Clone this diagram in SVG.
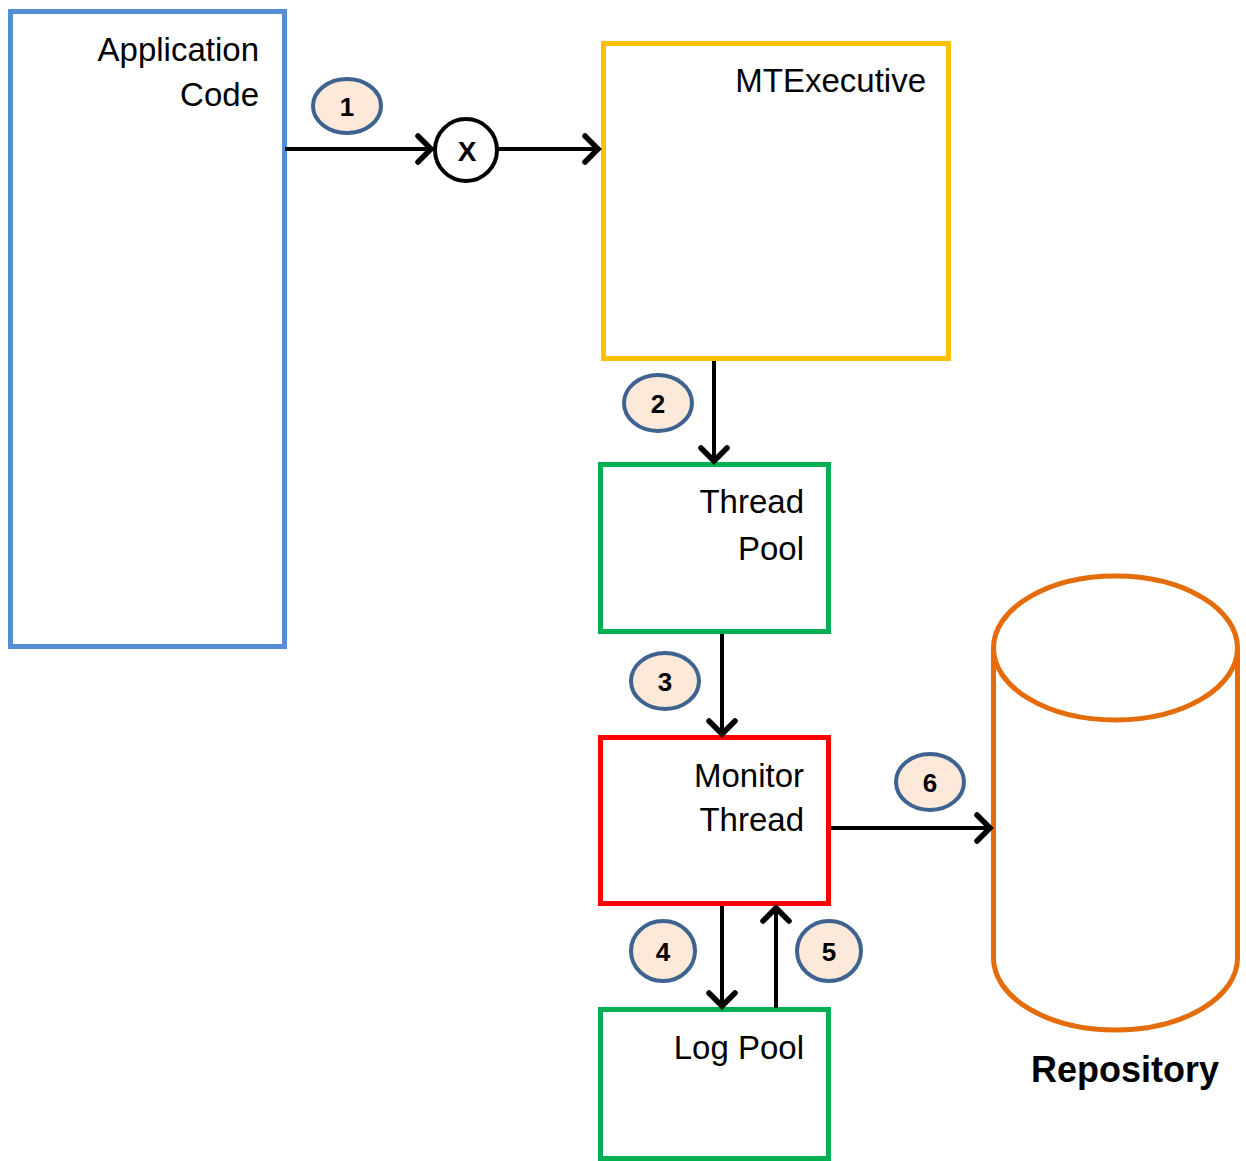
<svg xmlns="http://www.w3.org/2000/svg" width="1246" height="1161" viewBox="0 0 1246 1161">
<defs>
<style>
.box{fill:none;stroke-width:5}
.lbl{font-family:"Liberation Sans",Arial,sans-serif;font-size:33px;fill:#000;text-anchor:end}
.conn{stroke:#000;stroke-width:4;fill:none}
.badge{fill:#FDE9D9;stroke:#3F6390;stroke-width:4}
.num{font-family:"Liberation Sans",Arial,sans-serif;font-size:26px;font-weight:bold;text-anchor:middle;fill:#000}
</style>
<marker id="ah" markerUnits="userSpaceOnUse" viewBox="-16 -16 20 32" refX="0" refY="0" markerWidth="20" markerHeight="32" orient="auto">
<path d="M-13,-13 L0,0 L-13,13" fill="none" stroke="#000" stroke-width="5.5" stroke-linecap="round" stroke-linejoin="miter"/>
</marker>
</defs>
<rect width="1246" height="1161" fill="#fff"/>
<g id="app-code">
<rect class="box" x="10.5" y="11.5" width="274" height="635" stroke="#558ED5"/>
<text class="lbl" x="259" y="61">Application</text>
<text class="lbl" x="259" y="106">Code</text>
</g>
<g id="mtexecutive">
<rect class="box" x="603.5" y="43.5" width="345" height="315" stroke="#FFC000"/>
<text class="lbl" x="926" y="92">MTExecutive</text>
</g>
<g id="thread-pool">
<rect class="box" x="600.5" y="464.5" width="228" height="167" stroke="#00B050"/>
<text class="lbl" x="804" y="513">Thread</text>
<text class="lbl" x="804" y="560">Pool</text>
</g>
<g id="monitor-thread">
<rect class="box" x="600.5" y="737.5" width="228" height="166" stroke="#FF0000"/>
<text class="lbl" x="804" y="787">Monitor</text>
<text class="lbl" x="804" y="831">Thread</text>
</g>
<g id="log-pool">
<rect class="box" x="600.5" y="1009.5" width="228" height="149" stroke="#00B050"/>
<text class="lbl" x="804" y="1059">Log Pool</text>
</g>
<g id="repository">
<path d="M993.5,648 L993.5,958 A122,72 0 0 0 1237.5,958 L1237.5,648" fill="none" stroke="#E46C0A" stroke-width="5"/>
<ellipse cx="1115.5" cy="648" rx="122" ry="72" fill="none" stroke="#E46C0A" stroke-width="5"/>
<text x="1125" y="1082" font-family="Liberation Sans,Arial,sans-serif" font-size="36" font-weight="bold" text-anchor="middle">Repository</text>
</g>
<g id="junction-x">
<circle cx="466" cy="150" r="31" fill="#fff" stroke="#000" stroke-width="4"/>
<text x="467" y="161" font-family="Liberation Sans,Arial,sans-serif" font-size="28" font-weight="bold" text-anchor="middle">X</text>
</g>
<g id="connectors">
<line class="conn" x1="285" y1="149" x2="431" y2="149" marker-end="url(#ah)"/>
<line class="conn" x1="498" y1="149" x2="598" y2="149" marker-end="url(#ah)"/>
<line class="conn" x1="714" y1="361" x2="714" y2="461" marker-end="url(#ah)"/>
<line class="conn" x1="722" y1="634" x2="722" y2="734" marker-end="url(#ah)"/>
<line class="conn" x1="831" y1="828" x2="990" y2="828" marker-end="url(#ah)"/>
<line class="conn" x1="722" y1="906" x2="722" y2="1006" marker-end="url(#ah)"/>
<line class="conn" x1="776" y1="1008" x2="776" y2="908" marker-end="url(#ah)"/>
</g>
<g id="badges">
<g id="badge-1"><ellipse class="badge" cx="347" cy="106" rx="34" ry="27"/><text class="num" x="347" y="116">1</text></g>
<g id="badge-2"><ellipse class="badge" cx="658" cy="403" rx="34" ry="28"/><text class="num" x="658" y="413">2</text></g>
<g id="badge-3"><ellipse class="badge" cx="665" cy="681" rx="34" ry="28"/><text class="num" x="665" y="691">3</text></g>
<g id="badge-6"><ellipse class="badge" cx="930" cy="782" rx="34" ry="28"/><text class="num" x="930" y="792">6</text></g>
<g id="badge-4"><ellipse class="badge" cx="663" cy="951" rx="32" ry="30"/><text class="num" x="663" y="961">4</text></g>
<g id="badge-5"><ellipse class="badge" cx="829" cy="951" rx="32" ry="30"/><text class="num" x="829" y="961">5</text></g>
</g>
</svg>
